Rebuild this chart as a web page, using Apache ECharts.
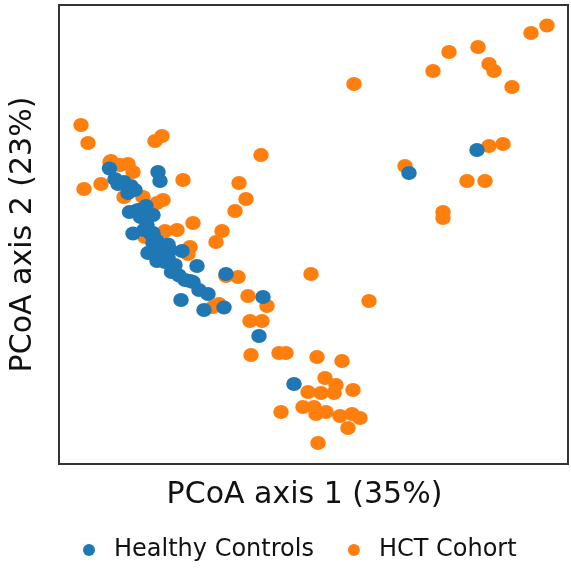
<!DOCTYPE html>
<html>
<head>
<meta charset="utf-8">
<script src="https://cdn.jsdelivr.net/npm/echarts@6/dist/echarts.min.js"></script>
<style>html,body{margin:0;padding:0;background:#fff;}#chart{width:571px;height:574px;}</style>
</head>
<body>
<div id="chart"></div>
<script>
var seriesNames = ['Healthy Controls', 'HCT Cohort'];
var xAxisTitle = 'PCoA axis 1 (35%)';
var yAxisTitle = 'PCoA axis 2 (23%)';
var xRange = [-0.191, 0.318];
var yRange = [-0.164, 0.295];

var healthyControls = [
  [-0.1405, 0.1315], [-0.135, 0.121], [-0.126, 0.118], [-0.119, 0.114], [-0.122, 0.107],
  [-0.092, 0.128], [-0.090, 0.119], [-0.1205, 0.088], [-0.104, 0.094], [-0.097, 0.085],
  [-0.1095, 0.083], [-0.117, 0.0665], [-0.106, 0.070], [-0.097, 0.063], [-0.093, 0.059],
  [-0.082, 0.0555], [-0.0985, 0.048], [-0.0895, 0.048], [-0.068, 0.049], [-0.093, 0.039],
  [-0.082, 0.043], [-0.0785, 0.028], [-0.071, 0.0245], [-0.053, 0.034], [-0.060, 0.019],
  [-0.051, 0.010], [-0.042, 0.006], [-0.024, 0.026], [-0.069, 0.000], [-0.046, -0.010],
  [-0.026, -0.0075], [0.013, 0.003], [0.009, -0.036], [0.044, -0.084], [0.227, 0.150],
  [0.159, 0.127], [-0.132, 0.116], [-0.115, 0.110], [-0.103, 0.075], [-0.088, 0.052],
  [-0.075, 0.035], [-0.065, 0.020], [-0.114, 0.089], [-0.100, 0.067], [-0.085, 0.038],
  [-0.102, 0.047], [-0.097, 0.057], [-0.112, 0.090], [-0.097, 0.067], [-0.057, 0.018],
  [-0.077, 0.033], [-0.080, 0.050]
];

var hctCohort = [
  [0.297, 0.2745], [0.281, 0.267], [0.228, 0.253], [0.199, 0.248], [0.183, 0.229],
  [0.239, 0.236], [0.244, 0.229], [0.262, 0.213], [0.104, 0.216], [0.239, 0.154],
  [0.253, 0.156], [0.155, 0.134], [0.217, 0.119], [0.235, 0.119], [0.193, 0.088],
  [0.193, 0.082], [0.061, 0.026], [0.119, -0.001],
  [-0.169, 0.175], [-0.162, 0.157], [-0.166, 0.111], [-0.149, 0.116], [-0.095, 0.159],
  [-0.088, 0.164], [0.011, 0.145], [-0.067, 0.120], [-0.011, 0.117], [-0.004, 0.101],
  [-0.015, 0.089], [-0.057, 0.077], [-0.073, 0.070], [-0.028, 0.069], [-0.034, 0.058],
  [-0.060, 0.053], [-0.062, 0.046], [-0.085, 0.069], [-0.087, 0.100], [-0.093, 0.097],
  [-0.107, 0.103], [-0.126, 0.103], [-0.139, 0.139], [-0.122, 0.136], [-0.117, 0.128],
  [-0.130, 0.135], [-0.012, 0.023], [-0.024, 0.024], [-0.002, 0.004], [0.017, -0.006],
  [-0.031, -0.004], [-0.037, -0.007], [0.000, -0.021], [0.012, -0.021], [0.001, -0.055],
  [0.029, -0.053], [0.036, -0.053], [0.067, -0.057], [0.092, -0.061], [0.075, -0.078],
  [0.086, -0.085], [0.058, -0.092], [0.071, -0.093], [0.084, -0.093], [0.103, -0.090],
  [0.031, -0.112], [0.053, -0.107], [0.064, -0.107], [0.066, -0.114], [0.076, -0.112],
  [0.090, -0.116], [0.102, -0.114], [0.110, -0.118], [0.098, -0.128], [0.068, -0.143],
  [-0.105, 0.063], [-0.110, 0.090], [-0.140, 0.138]
];

var colors = ['#1f77b4', '#ff7f0e'];
var font = 'DejaVu Sans';

var chart = echarts.init(document.getElementById('chart'), null, {renderer: 'canvas'});
chart.setOption({
  animation: false,
  backgroundColor: '#ffffff',
  grid: {
    left: 59, top: 5, right: 3, bottom: 110,
    show: true, borderColor: '#333333', borderWidth: 2, backgroundColor: 'transparent'
  },
  legend: {
    data: seriesNames,
    left: 78, top: 533,
    icon: 'circle',
    itemWidth: 12, itemHeight: 12,
    itemGap: 34,
    textStyle: {fontFamily: font, fontSize: 24, color: '#111', padding: [12, 0, 0, 14]}
  },
  xAxis: {
    type: 'value', min: xRange[0], max: xRange[1],
    name: xAxisTitle, nameLocation: 'middle', nameGap: 16,
    nameTextStyle: {fontFamily: font, fontSize: 30, color: '#111', padding: [0, 18, 0, 0]},
    axisLine: {show: false}, axisTick: {show: false}, axisLabel: {show: false}, splitLine: {show: false}
  },
  yAxis: {
    type: 'value', min: yRange[0], max: yRange[1],
    name: yAxisTitle, nameLocation: 'middle', nameGap: 21,
    nameTextStyle: {fontFamily: font, fontSize: 30, color: '#111'},
    axisLine: {show: false}, axisTick: {show: false}, axisLabel: {show: false}, splitLine: {show: false}
  },
  series: [
    {
      name: seriesNames[0], type: 'scatter', data: healthyControls, z: 3,
      symbol: 'circle', symbolSize: [15.5, 14],
      itemStyle: {color: colors[0], opacity: 1}
    },
    {
      name: seriesNames[1], type: 'scatter', data: hctCohort, z: 2,
      symbol: 'circle', symbolSize: [15.5, 14],
      itemStyle: {color: colors[1], opacity: 1}
    }
  ]
});
</script>
</body>
</html>
